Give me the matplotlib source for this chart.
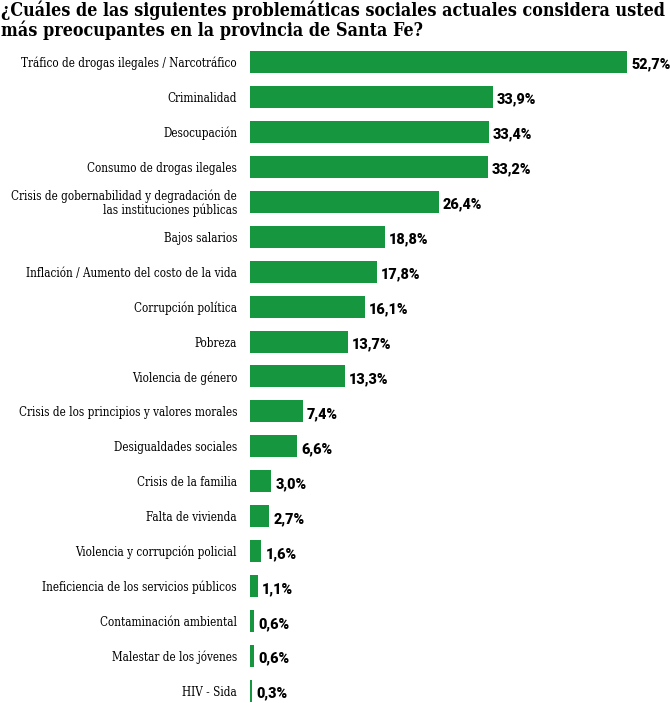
import matplotlib
matplotlib.use("Agg")
import matplotlib.pyplot as plt

# data
categories = [
    "Tráfico de drogas ilegales / Narcotráfico",
    "Criminalidad",
    "Desocupación",
    "Consumo de drogas ilegales",
    "Crisis de gobernabilidad y degradación de\nlas instituciones públicas",
    "Bajos salarios",
    "Inflación / Aumento del costo de la vida",
    "Corrupción política",
    "Pobreza",
    "Violencia de género",
    "Crisis de los principios y valores morales",
    "Desigualdades sociales",
    "Crisis de la familia",
    "Falta de vivienda",
    "Violencia y corrupción policial",
    "Ineficiencia de los servicios públicos",
    "Contaminación ambiental",
    "Malestar de los jóvenes",
    "HIV - Sida",
]
values = [52.7, 33.9, 33.4, 33.2, 26.4, 18.8, 17.8, 16.1, 13.7, 13.3,
          7.4, 6.6, 3.0, 2.7, 1.6, 1.1, 0.6, 0.6, 0.3]
value_labels = ["52,7%", "33,9%", "33,4%", "33,2%", "26,4%", "18,8%", "17,8%",
                "16,1%", "13,7%", "13,3%", "7,4%", "6,6%", "3,0%", "2,7%",
                "1,6%", "1,1%", "0,6%", "0,6%", "0,3%"]
title = ("¿Cuáles de las siguientes problemáticas sociales actuales considera usted\n"
         "más preocupantes en la provincia de Santa Fe?")

GREEN = "#16973f"
W, H = 670, 703

fig = plt.figure(figsize=(W / 100, H / 100), dpi=100)
ax = fig.add_axes([250 / W, 0, 420 / W, 1])

pos = list(range(len(values)))
ax.barh(pos, values, height=0.63, color=GREEN)

# row i centred at pixel 62 + 34.94*i
step = 34.94
ax.set_ylim((H - 62) / step, -62 / step)
ax.set_xlim(0, 420 / 7.155)
ax.axis("off")

for i, (lab, v, vl) in enumerate(zip(categories, values, value_labels)):
    ax.text(-13 / 7.155, i, lab, ha="right", va="center_baseline",
            multialignment="right", fontsize=8.4, family="DejaVu Serif",
            fontstretch="condensed", linespacing=1.05)
    ax.text(v + 0.55, i + 0.08, vl, ha="left", va="center", fontsize=10.4,
            fontweight="black", family="Roboto")

fig.text(1 / W, 1 - 1 / H, title, ha="left", va="top", fontsize=12.85,
         fontweight="bold", family="DejaVu Serif", fontstretch="condensed",
         linespacing=1.0)

fig.savefig("out.png", dpi=100)
